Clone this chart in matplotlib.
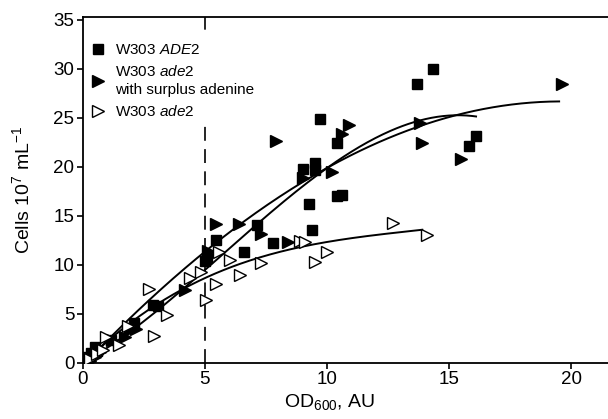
import numpy as np
import matplotlib
matplotlib.use('Agg')
import matplotlib.pyplot as plt
from matplotlib.lines import Line2D

plt.rcParams['font.family'] = ['Liberation Sans', 'DejaVu Sans']
plt.rcParams['mathtext.fontset'] = 'custom'
plt.rcParams['mathtext.rm'] = 'Liberation Sans'
plt.rcParams['mathtext.it'] = 'Liberation Sans:italic'
plt.rcParams['lines.scale_dashes'] = False

# W303 ADE2 (filled squares)
ade2_wt_x = [0.15, 0.35, 0.5, 0.6, 1.15, 2.1, 2.9, 3.1, 5.0, 5.1, 5.45, 6.6, 7.15, 7.8,
             9.0, 9.25, 9.4, 9.5, 9.5, 9.7, 10.4, 10.4, 10.6, 13.7, 14.35, 15.8, 16.1]
ade2_wt_y = [0.6, 1.0, 1.6, 1.2, 2.3, 4.1, 5.9, 5.8, 10.4, 10.7, 12.5, 11.3, 14.1, 12.2,
             19.8, 16.2, 13.6, 20.4, 19.7, 24.9, 22.4, 17.0, 17.1, 28.5, 30.0, 22.1, 23.2]

# W303 ade2 with surplus adenine (filled triangles)
surplus_x = [0.3, 0.5, 0.7, 1.2, 1.75, 1.95, 2.2, 4.2, 5.15, 5.45, 6.4, 7.3, 7.9, 8.4,
             9.0, 10.2, 10.6, 10.9, 13.8, 13.9, 15.5, 19.6]
surplus_y = [0.2, 0.6, 1.1, 2.3, 2.6, 3.4, 3.5, 7.4, 11.4, 14.2, 14.2, 13.2, 22.7, 12.3,
             18.9, 19.5, 23.4, 24.3, 24.5, 22.4, 20.8, 28.5]

# W303 ade2 (open triangles)
ade2_x = [0.3, 0.6, 0.85, 0.95, 1.5, 1.85, 2.72, 2.92, 3.45, 4.4, 4.83, 5.03, 5.44, 5.6,
          6.05, 6.46, 7.3, 8.9, 9.1, 9.5, 10.0, 12.7, 14.1]
ade2_y = [0.4, 0.9, 1.3, 2.6, 1.8, 3.8, 7.5, 2.8, 4.9, 8.7, 9.3, 6.4, 8.1, 11.3,
          10.5, 9.0, 10.2, 12.4, 12.3, 10.3, 11.3, 14.3, 13.1]

# trend curves, points
fit_wt_x = [0.3, 3.5, 5.57, 7.6, 9.7, 11.5, 13.8, 15.3, 16.1]
fit_wt_y = [0.4, 6.4, 10.7, 15.0, 19.4, 22.3, 24.8, 25.3, 25.1]
fit_surplus_x = [0.2, 3.6, 5.5, 9.7, 13.8, 15.3, 19.5]
fit_surplus_y = [0.3, 8.1, 12.6, 19.5, 24.1, 25.3, 26.7]
fit_ade2_x = [0.3, 2.0, 3.5, 4.8, 7.15, 10.55, 13.9]
fit_ade2_y = [0.6, 4.2, 6.6, 8.5, 10.7, 12.55, 13.6]

fig = plt.figure(figsize=(6.08, 4.19), dpi=100)
ax = fig.add_axes([0.1359, 0.1337, 0.8641, 0.8257])

# smooth the trend lines
for fx, fy in [(fit_wt_x, fit_wt_y), (fit_surplus_x, fit_surplus_y), (fit_ade2_x, fit_ade2_y)]:
    p = np.polyfit(fx, fy, 3)
    xx = np.linspace(fx[0], fx[-1], 200)
    ax.plot(xx, np.polyval(p, xx), color='black', lw=1.4, zorder=2)

ax.axvline(5, color='black', lw=1.2, dashes=(10, 6), zorder=1)

ms = 7.5
ax.plot(ade2_wt_x, ade2_wt_y, 's', color='black', ms=ms, zorder=3)
ax.plot(surplus_x, surplus_y, '>', color='black', ms=ms + 0.8, zorder=3)
ax.plot(ade2_x, ade2_y, '>', mfc='white', mec='black', mew=1.0, ms=ms + 0.8, zorder=3)

handles = [
    Line2D([], [], marker='s', color='black', ls='none', ms=ms),
    Line2D([], [], marker='>', color='black', ls='none', ms=ms + 0.8),
    Line2D([], [], marker='>', mfc='white', mec='black', mew=1.0, ls='none', ms=ms + 0.8),
]
labels = [r'W303 $\it{ADE2}$', 'W303 $\\it{ade2}$\nwith surplus adenine', r'W303 $\it{ade2}$']
leg = ax.legend(handles, labels, loc='upper left', bbox_to_anchor=(-0.008, 0.96),
                fontsize=11, frameon=True, framealpha=1, edgecolor='none',
                handlelength=1.0, handletextpad=0.6, labelspacing=0.45, borderpad=0.3)
for t in leg.get_texts():
    t.set_linespacing(1.4)
leg.set_zorder(5)

ax.set_xlim(0, 21.5)
ax.set_ylim(0, 35.3)
ax.set_xticks([0, 5, 10, 15, 20])
ax.set_yticks(range(0, 36, 5))
ax.tick_params(direction='out', length=4, width=1.2, labelsize=13.5, pad=2)
for s in ['left', 'bottom', 'top']:
    ax.spines[s].set_linewidth(1.3)
ax.spines['right'].set_visible(False)

ax.set_xlabel(r'OD$_{600}$, AU', fontsize=14)
ax.set_ylabel(r'Cells 10$^7$ mL$^{-1}$', fontsize=14)
ax.xaxis.set_label_coords(0.47, -0.085)
ax.yaxis.set_label_coords(-0.095, 0.5)

fig.savefig('out.png', dpi=100)
